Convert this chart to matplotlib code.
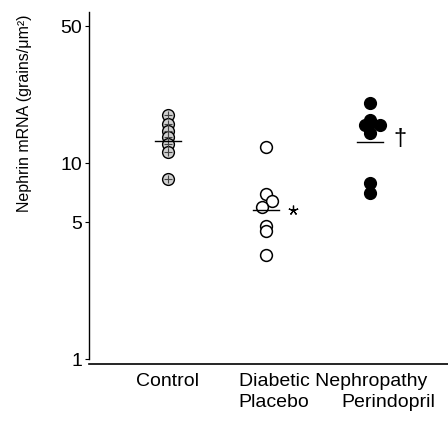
import matplotlib
matplotlib.use("Agg")
import matplotlib.pyplot as plt
import numpy as np

plt.rcParams['font.family'] = ['Liberation Sans', 'DejaVu Sans']

# Data
groups = ["Control", "Placebo", "Perindopril"]
control_vals = [17.6, 15.8, 14.6, 13.6, 12.6, 11.4, 8.35]
control_dx = [0, 0, 0, 0, 0, 0, 0]
placebo_vals = [12.1, 6.99, 6.43, 5.99, 4.78, 4.50, 3.39]
placebo_dx = [0, 0, 0.06, -0.04, 0, 0, 0]
perindopril_vals = [20.3, 16.6, 16.0, 15.7, 15.7, 14.2, 7.96, 7.07]
perindopril_dx = [0, 0, 0, -0.05, 0.10, 0, 0, 0]
means = [12.95, 5.78, 12.8]
yticks = [1, 5, 10, 50]

fig = plt.figure(figsize=(4.48, 4.24), dpi=100)
ax = fig.add_axes([89/448, 1-364/424, 1-89/448, (364-12)/424])
ax.set_yscale('log')
ax.set_ylim(0.943, 59.3)
ax.set_xlim(0.218, 3.772)

xs = [1.0, 1.97, 3.0]
ms = 72
# Control: textured gray circles
cx = np.array(control_dx) + xs[0]
ax.scatter(cx, control_vals, s=ms, facecolor='#d0d0d0',
           edgecolor='black', linewidth=1.0, zorder=3)
ax.scatter(cx, control_vals, s=26, marker='+', color='#444444',
           linewidth=0.8, zorder=3.5)
# Placebo: open circles
ax.scatter(np.array(placebo_dx) + xs[1], placebo_vals, s=ms, facecolor='white',
           edgecolor='black', linewidth=1.1, zorder=3)
# Perindopril: filled circles
ax.scatter(np.array(perindopril_dx) + xs[2], perindopril_vals, s=ms, facecolor='black',
           edgecolor='black', linewidth=1.0, zorder=3)

# Mean lines
for x, m in zip(xs, means):
    ax.plot([x - 0.13, x + 0.13], [m, m], color='black', lw=1.0, zorder=4)

# Significance markers
ax.plot([xs[1] + 0.27], [means[1]], marker=(5, 2, 0), color='black', ms=7, mew=0.9)
ax.text(xs[2] + 0.30, 13.3, '\u2020', fontsize=17, ha='center', va='center')

# Axes styling
ax.spines['top'].set_visible(False)
ax.spines['right'].set_visible(False)
ax.spines['left'].set_bounds(1, 59.3)
ax.spines['left'].set_linewidth(1.0)
ax.spines['bottom'].set_linewidth(1.2)
ax.set_yticks(yticks)
ax.set_yticklabels([str(t) for t in yticks], fontsize=14)
ax.yaxis.set_minor_locator(matplotlib.ticker.NullLocator())
ax.tick_params(axis='y', direction='out', length=3, width=0.8, pad=2)
ax.set_xticks([])

# Category labels
tr = ax.get_xaxis_transform()
ax.text(1.0, -0.05, "Control", transform=tr, ha='center', va='center', fontsize=14)
ax.text(2.634, -0.05, "Diabetic Nephropathy", transform=tr, ha='center', va='center', fontsize=14)
ax.text(2.05, -0.11, "Placebo", transform=tr, ha='center', va='center', fontsize=14)
ax.text(3.178, -0.11, "Perindopril", transform=tr, ha='center', va='center', fontsize=14)

fig.text(25/448, 1-113/424, "Nephrin mRNA (grains/\u03bcm\u00b2)", rotation=90,
         ha='center', va='center', fontsize=11.5)

fig.savefig("out.png", dpi=100)
